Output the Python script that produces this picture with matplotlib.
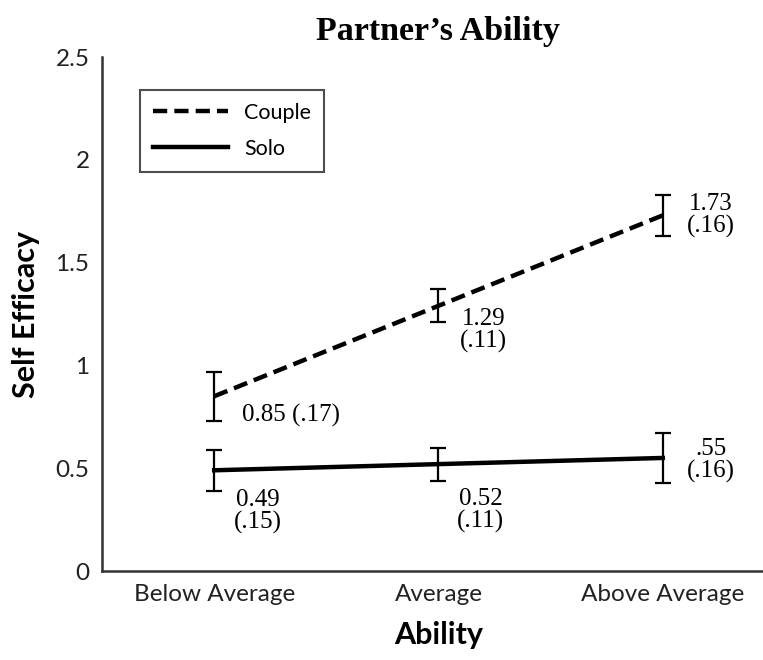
import numpy as np
import matplotlib.pyplot as plt

# ---- data ----
categories = ["Below Average", "Average", "Above Average"]
couple_mean = [0.85, 1.29, 1.73]
couple_err = [0.12, 0.08, 0.10]
couple_text = ["0.85 (.17)", "1.29\n(.11)", "1.73\n(.16)"]
solo_mean = [0.49, 0.52, 0.55]
solo_err = [0.10, 0.08, 0.12]
solo_text = ["0.49\n(.15)", "0.52\n(.11)", ".55\n(.16)"]
y_ticks = [0, 0.5, 1, 1.5, 2, 2.5]
y_tick_labels = ["0", "0.5", "1", "1.5", "2", "2.5"]

SANS = "Lato"
SERIF = "Liberation Serif"

fig = plt.figure(figsize=(7.63, 6.6), dpi=100)
# axes runs slightly past the right edge, like the cropped original
ax = fig.add_axes([0.1337, 0.1348, 0.882, 0.7788])

x = np.arange(len(categories))

ax.plot(x, couple_mean, color="black", lw=3.2, ls=(0, (3.2, 1.6)), label="Couple")
ax.plot(x, solo_mean, color="black", lw=3.2, ls="-", label="Solo")
ax.errorbar(x, couple_mean, yerr=couple_err, fmt="none", ecolor="black",
            elinewidth=1.6, capsize=6, capthick=1.6)
ax.errorbar(x, solo_mean, yerr=solo_err, fmt="none", ecolor="black",
            elinewidth=1.6, capsize=6, capthick=1.6)

# value labels (offsets in pixels from each point)
couple_off = [(28, -19, "left"), (45, -25, "center"), (48, 0, "center")]
solo_off = [(44, -41, "center"), (42, -46, "center"), (48, -3, "center")]
for xi, yi, t, (dx, dy, ha) in zip(x, couple_mean, couple_text, couple_off):
    ax.annotate(t, (xi, yi), xytext=(dx, dy), textcoords="offset pixels",
                ha=ha, va="center", family=SERIF, fontsize=18, linespacing=1.0)
for xi, yi, t, (dx, dy, ha) in zip(x, solo_mean, solo_text, solo_off):
    ax.annotate(t, (xi, yi), xytext=(dx, dy), textcoords="offset pixels",
                ha=ha, va="center", family=SERIF, fontsize=18, linespacing=1.0)

ax.set_xlim(-0.5, 2.5)
ax.set_ylim(0, 2.5)
ax.set_xticks(x)
ax.set_xticklabels(categories, family=SANS, fontsize=17.5)
ax.set_yticks(y_ticks)
ax.set_yticklabels(y_tick_labels, family=SANS, fontsize=17.5)
ax.tick_params(length=0, pad=9, colors="#222222")

for s in ["top", "right"]:
    ax.spines[s].set_visible(False)
for s in ["left", "bottom"]:
    ax.spines[s].set_color("#333333")
    ax.spines[s].set_linewidth(1.8)

ax.set_xlabel("Ability", family=SANS, fontsize=22, fontweight="bold", labelpad=12)
ax.set_ylabel("Self Efficacy", family=SANS, fontsize=22, fontweight="bold", labelpad=11)
ax.set_title("Partner\u2019s Ability", family=SERIF, fontsize=24.5, fontweight="bold", pad=12)

leg = ax.legend(loc="upper left", bbox_to_anchor=(0.0565, 0.936), borderaxespad=0,
                frameon=True, fancybox=False, edgecolor="#222222",
                prop={"family": SANS, "size": 15.5}, handlelength=3.5,
                handletextpad=0.75, borderpad=0.6, labelspacing=0.75)
leg.get_frame().set_linewidth(1.5)

fig.savefig("out.png", dpi=100)
